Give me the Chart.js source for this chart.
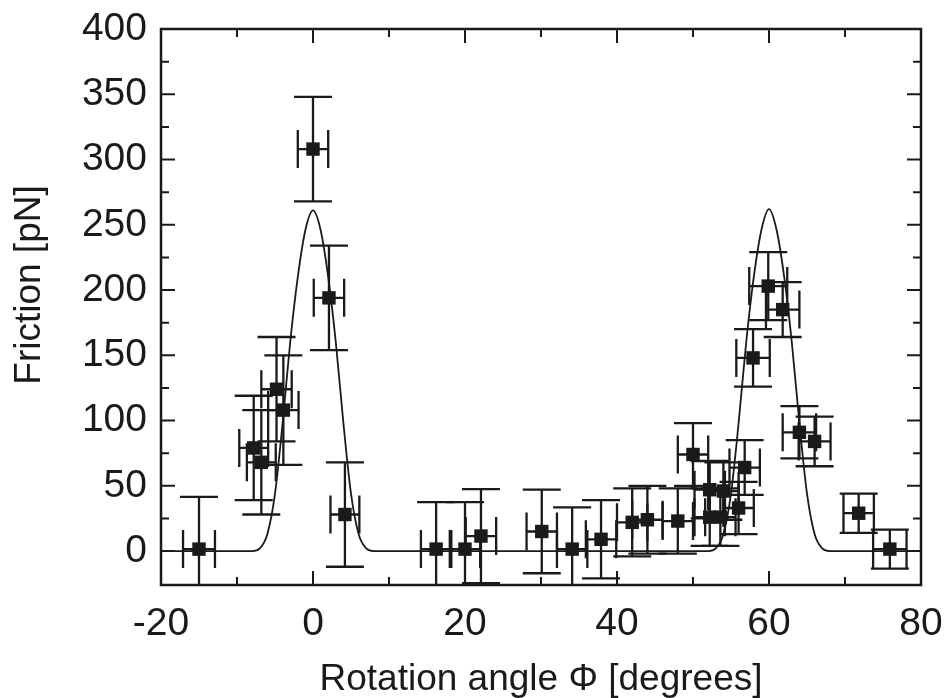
<!DOCTYPE html>
<html>
<head>
<meta charset="utf-8">
<script src="https://cdn.jsdelivr.net/npm/chart.js@4.4.1/dist/chart.umd.min.js"></script>
<style>
  html, body { margin: 0; padding: 0; background: #fff; }
  #wrap { width: 945px; height: 698px; }
</style>
</head>
<body>
<div id="wrap"><canvas id="friction" width="945" height="698"></canvas></div>
<script>
const angle = [-15, -7.8, -6.8, -4.8, -3.9, 0, 2.1, 4.2,
  16.2, 20, 22.1, 30.1, 34.1, 37.9, 42, 44, 48,
  50, 52.2, 54, 52.2, 53.6, 56, 56.8, 57.9, 59.9, 61.8, 64, 66, 71.8, 75.9];
const friction = [1.5, 79, 68, 124, 108, 308, 194, 28,
  1.5, 1.5, 11.5, 15, 1.5, 9, 22, 24, 23,
  74, 47, 46, 26, 26, 33, 64, 148, 203, 185, 91, 84, 29, 1.5];
const angleErr = [2.1, 1.9, 1.9, 2, 2, 2, 2, 1.9,
  2, 2, 2, 2, 2, 2, 2, 2, 2,
  2, 2, 2, 2, 2, 2, 2, 2.2, 2.5, 2.2, 2.2, 2.1, 2, 2.2];
const frictionErr = [40, 40, 40, 40, 42, 40, 40, 40,
  36, 36, 36, 32, 32, 30, 26, 26, 25,
  24, 22, 22, 22, 22, 20, 21, 22, 26, 21, 20, 19, 15, 15];

// model curve
const curveAngle = [-20, -8, -7, -6, -5, -4, -3, -2, -1, 0, 1, 2, 3, 4, 5, 6, 7, 8,
  52, 53, 54, 55, 56, 57, 58, 59, 60, 61, 62, 63, 64, 65, 66, 67, 68, 80];
const curveFriction = [0, 0, 2, 13, 44, 98, 160, 210, 246, 261, 246, 210, 160, 98, 44, 13, 2, 0,
  0, 2, 13, 44, 98, 160, 210, 246, 262, 246, 210, 160, 98, 44, 13, 2, 0, 0];

const xMajorTicks = [-20, 0, 20, 40, 60, 80];
const xMinorTicks = [-10, 10, 30, 50, 70];
const yMajorTicks = [0, 50, 100, 150, 200, 250, 300, 350, 400];
const yMinorTicks = [25, 75, 125, 175, 225, 275, 325, 375];

const xTitle = 'Rotation angle \u03A6 [degrees]';
const yTitle = 'Friction [pN]';

const INK = '#1a1a1a';
const FONT = '"Liberation Sans", Arial, sans-serif';

const errorBars = {
  id: 'errorBars',
  beforeDatasetsDraw(chart) {
    const { ctx, chartArea: a, scales: { x, y } } = chart;
    const cap = 19;
    ctx.save();
    ctx.beginPath();
    ctx.rect(a.left, a.top, a.right - a.left, a.bottom - a.top);
    ctx.clip();
    ctx.strokeStyle = INK;
    ctx.lineWidth = 2.3;
    angle.forEach((ax, i) => {
      const px = x.getPixelForValue(ax);
      const py = y.getPixelForValue(friction[i]);
      const y0 = y.getPixelForValue(friction[i] - frictionErr[i]);
      const y1 = y.getPixelForValue(friction[i] + frictionErr[i]);
      const x0 = x.getPixelForValue(ax - angleErr[i]);
      const x1 = x.getPixelForValue(ax + angleErr[i]);
      ctx.beginPath();
      ctx.moveTo(px, y0); ctx.lineTo(px, y1);
      ctx.moveTo(px - cap, y0); ctx.lineTo(px + cap, y0);
      ctx.moveTo(px - cap, y1); ctx.lineTo(px + cap, y1);
      ctx.moveTo(x0, py); ctx.lineTo(x1, py);
      ctx.moveTo(x0, py - cap); ctx.lineTo(x0, py + cap);
      ctx.moveTo(x1, py - cap); ctx.lineTo(x1, py + cap);
      ctx.stroke();
    });
    ctx.restore();
  }
};

// box frame with inward ticks on all four sides, plus axis titles
const frame = {
  id: 'frame',
  afterDraw(chart) {
    const { ctx, chartArea: a, scales: { x, y } } = chart;
    ctx.save();
    ctx.strokeStyle = INK;
    ctx.lineWidth = 2.5;
    ctx.strokeRect(a.left, a.top, a.right - a.left, a.bottom - a.top);

    ctx.lineWidth = 2;
    const xTick = (v, len) => {
      const px = x.getPixelForValue(v);
      ctx.moveTo(px, a.bottom); ctx.lineTo(px, a.bottom - len);
      ctx.moveTo(px, a.top); ctx.lineTo(px, a.top + len);
    };
    const yTick = (v, len) => {
      const py = y.getPixelForValue(v);
      ctx.moveTo(a.left, py); ctx.lineTo(a.left + len, py);
      ctx.moveTo(a.right, py); ctx.lineTo(a.right - len, py);
    };
    ctx.beginPath();
    xMajorTicks.forEach(v => xTick(v, 14));
    xMinorTicks.forEach(v => xTick(v, 8));
    yMajorTicks.forEach(v => yTick(v, 14));
    yMinorTicks.forEach(v => yTick(v, 8));
    ctx.stroke();

    ctx.fillStyle = INK;
    ctx.font = '37px ' + FONT;
    ctx.textAlign = 'center';
    ctx.textBaseline = 'middle';
    ctx.fillText(xTitle, (a.left + a.right) / 2, 680);
    ctx.translate(30, 285);
    ctx.rotate(-Math.PI / 2);
    ctx.fillText(yTitle, 0, 0);
    ctx.restore();
  }
};

new Chart(document.getElementById('friction'), {
  type: 'scatter',
  data: {
    datasets: [
      {
        type: 'line',
        data: curveAngle.map((v, i) => ({ x: v, y: curveFriction[i] })),
        borderColor: INK,
        borderWidth: 1.8,
        pointRadius: 0,
        fill: false,
        cubicInterpolationMode: 'monotone'
      },
      {
        data: angle.map((v, i) => ({ x: v, y: friction[i] })),
        pointStyle: 'rect',
        pointRadius: 9.5,
        backgroundColor: INK,
        borderColor: INK,
        borderWidth: 0
      }
    ]
  },
  options: {
    responsive: false,
    animation: false,
    devicePixelRatio: 1,
    layout: { padding: { top: 29, right: 24, left: 0, bottom: 0 } },
    plugins: { legend: { display: false }, tooltip: { enabled: false } },
    scales: {
      x: {
        type: 'linear',
        min: -20,
        max: 80,
        grid: { display: false, drawTicks: false },
        border: { display: false },
        afterBuildTicks: s => { s.ticks = xMajorTicks.map(v => ({ value: v })); },
        afterFit: s => { s.height = 113; s.paddingLeft = 0; s.paddingRight = 0; },
        ticks: {
          color: INK,
          font: { family: FONT, size: 39 },
          padding: 16,
          maxRotation: 0,
          callback: v => String(v)
        }
      },
      y: {
        type: 'linear',
        min: -26,
        max: 400,
        grid: { display: false, drawTicks: false },
        border: { display: false },
        afterBuildTicks: s => { s.ticks = yMajorTicks.map(v => ({ value: v })); },
        afterFit: s => { s.width = 161; s.paddingTop = 0; s.paddingBottom = 0; },
        ticks: {
          color: INK,
          font: { family: FONT, size: 39 },
          padding: 14,
          callback: v => String(v)
        }
      }
    }
  },
  plugins: [errorBars, frame]
});
</script>
</body>
</html>
